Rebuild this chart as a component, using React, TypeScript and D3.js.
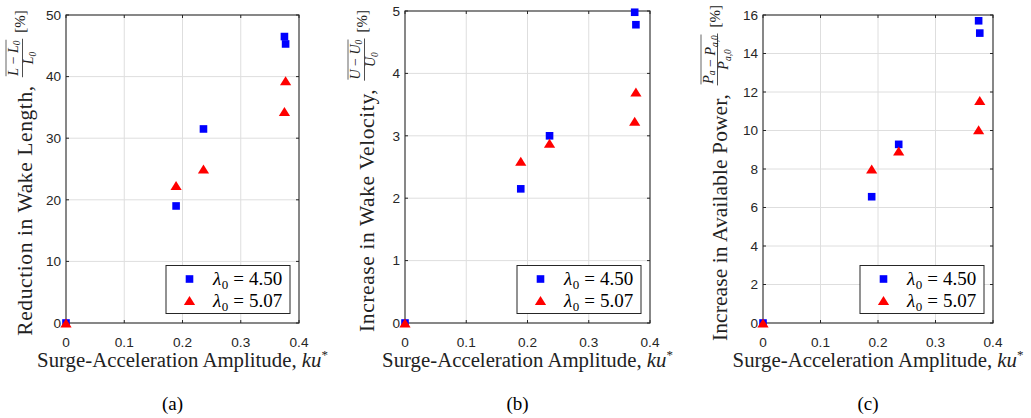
import React, { useEffect, useRef } from 'react';
import * as d3 from 'd3';

const W = 1031;
const H = 418;

// ---- data ----
const ampSquare = [0, 0.189, 0.236, 0.375, 0.377];
const ampTriangle = [0, 0.189, 0.236, 0.377, 0.375];
const lengthSquare = [0, 19.0, 31.5, 46.5, 45.3];
const lengthTriangle = [0, 22.3, 25.0, 39.3, 34.3];
const velocitySquare = [0, 2.15, 3.0, 4.98, 4.78];
const velocityTriangle = [0, 2.59, 2.88, 3.7, 3.23];
const powerSquare = [0, 6.56, 9.28, 15.7, 15.06];
const powerTriangle = [0, 8.0, 8.93, 11.55, 10.03];
const xTicks = [0, 0.1, 0.2, 0.3, 0.4];
const lengthTicks = [0, 10, 20, 30, 40, 50];
const velocityTicks = [0, 1, 2, 3, 4, 5];
const powerTicks = [0, 2, 4, 6, 8, 10, 12, 14, 16];
const legendValues = ['4.50', '5.07'];
const captions = ['(a)', '(b)', '(c)'];
const mainLabels = ['Reduction in Wake Length,', 'Increase in Wake Velocity,', 'Increase in Available Power,'];
const varSymbols = ['L', 'U', 'P'];
const varSubs = ['0', '0', 'a,0'];

const SERIF = '"Liberation Serif", "Times New Roman", serif';
const SANS = '"Liberation Sans", Arial, sans-serif';
const AX = '#262626';
const GRID = '#dedede';

type Panel = {
  left: number; right: number; top: number; bottom: number; labelX: number;
  yTicks: number[]; sq: number[]; tri: number[]; idx: number;
};

const panels: Panel[] = [
  { left: 66, right: 299, top: 15, bottom: 323, labelX: 32, yTicks: lengthTicks, sq: lengthSquare, tri: lengthTriangle, idx: 0 },
  { left: 405, right: 650, top: 11, bottom: 323, labelX: 374, yTicks: velocityTicks, sq: velocitySquare, tri: velocityTriangle, idx: 1 },
  { left: 763, right: 993, top: 15, bottom: 323, labelX: 727, yTicks: powerTicks, sq: powerSquare, tri: powerTriangle, idx: 2 },
];

const triPath = 'M0,-4.6L5.6,4.4L-5.6,4.4Z';

export default function App() {
  const ref = useRef<SVGSVGElement | null>(null);

  useEffect(() => {
    const svg = d3.select(ref.current);
    svg.selectAll('*').remove();

    panels.forEach((p) => {
      const x = d3.scaleLinear().domain([0, 0.4]).range([p.left, p.right]);
      const yMax = p.yTicks[p.yTicks.length - 1];
      const y = d3.scaleLinear().domain([0, yMax]).range([p.bottom, p.top]);
      const g = svg.append('g');

      // grid
      g.selectAll('line.gx').data(xTicks.slice(1, -1)).enter().append('line')
        .attr('x1', (d) => x(d)).attr('x2', (d) => x(d)).attr('y1', p.top).attr('y2', p.bottom)
        .attr('stroke', GRID).attr('stroke-width', 1);
      g.selectAll('line.gy').data(p.yTicks.slice(1, -1)).enter().append('line')
        .attr('y1', (d) => y(d)).attr('y2', (d) => y(d)).attr('x1', p.left).attr('x2', p.right)
        .attr('stroke', GRID).attr('stroke-width', 1);

      // ticks (inside, all sides)
      const tl = 3;
      xTicks.forEach((t) => {
        g.append('line').attr('x1', x(t)).attr('x2', x(t)).attr('y1', p.bottom).attr('y2', p.bottom - tl).attr('stroke', AX);
        g.append('line').attr('x1', x(t)).attr('x2', x(t)).attr('y1', p.top).attr('y2', p.top + tl).attr('stroke', AX);
      });
      p.yTicks.forEach((t) => {
        g.append('line').attr('y1', y(t)).attr('y2', y(t)).attr('x1', p.left).attr('x2', p.left + tl).attr('stroke', AX);
        g.append('line').attr('y1', y(t)).attr('y2', y(t)).attr('x1', p.right).attr('x2', p.right - tl).attr('stroke', AX);
      });

      // box
      g.append('rect').attr('x', p.left).attr('y', p.top).attr('width', p.right - p.left).attr('height', p.bottom - p.top)
        .attr('fill', 'none').attr('stroke', AX).attr('stroke-width', 1.1);

      // tick labels
      g.selectAll('text.xt').data(xTicks).enter().append('text')
        .attr('x', (d) => x(d)).attr('y', 346.5).attr('text-anchor', 'middle')
        .attr('font-family', SANS).attr('font-size', 13.6).attr('fill', AX)
        .text((d) => d3.format('')(d));
      g.selectAll('text.yt').data(p.yTicks).enter().append('text')
        .attr('x', p.left - 5).attr('y', (d) => y(d)).attr('dy', '0.36em').attr('text-anchor', 'end')
        .attr('font-family', SANS).attr('font-size', 13.6).attr('fill', AX)
        .text((d) => String(d));

      // data
      g.selectAll('rect.sq').data(p.sq).enter().append('rect')
        .attr('x', (d, i) => x(ampSquare[i]) - 3.8).attr('y', (d) => y(d) - 3.8)
        .attr('width', 7.6).attr('height', 7.6).attr('fill', '#0000ff');
      g.selectAll('path.tri').data(p.tri).enter().append('path')
        .attr('d', triPath)
        .attr('transform', (d, i) => `translate(${x(ampTriangle[i])},${y(d)})`)
        .attr('fill', '#ff0000');

      // legend
      const lw = 124, lh = 48;
      const lx = p.right - 9 - lw, ly = p.bottom - 9.5 - lh;
      g.append('rect').attr('x', lx).attr('y', ly).attr('width', lw).attr('height', lh)
        .attr('fill', '#fff').attr('stroke', AX).attr('stroke-width', 1);
      const rows = [ly + 13.5, ly + 35];
      g.append('rect').attr('x', lx + 23.5 - 3.8).attr('y', rows[0] - 3.8).attr('width', 7.6).attr('height', 7.6).attr('fill', '#0000ff');
      g.append('path').attr('d', triPath).attr('transform', `translate(${lx + 23.5},${rows[1]})`).attr('fill', '#ff0000');
      legendValues.forEach((v, i) => {
        const t = g.append('text').attr('x', lx + 47).attr('y', rows[i] + 6)
          .attr('font-family', SERIF).attr('font-size', 19).attr('fill', '#000');
        t.append('tspan').attr('font-style', 'italic').text('λ');
        t.append('tspan').attr('font-size', 13).attr('dy', 4).attr('dx', 0.5).text('0');
        t.append('tspan').attr('dy', -4).attr('dx', 5).text('=');
        t.append('tspan').attr('dx', 5).text(v);
      });

      // x label
      const cx = (p.left + p.right) / 2;
      const xl = g.append('text').attr('x', cx).attr('y', 367).attr('text-anchor', 'middle')
        .attr('font-family', SERIF).attr('font-size', 20.8).attr('fill', '#222');
      xl.append('tspan').text('Surge-Acceleration Amplitude, ');
      xl.append('tspan').attr('font-style', 'italic').text('ku');
      xl.append('tspan').attr('font-size', 13).attr('dy', -8).text('*');

      // caption
      g.append('text').attr('x', cx - 10).attr('y', 410).attr('text-anchor', 'middle')
        .attr('font-family', SERIF).attr('font-size', 19).attr('fill', '#000').text(captions[p.idx]);

      // y label (rotated, with fraction)
      const cy = (p.top + p.bottom) / 2 + 4;
      const yl = g.append('g').attr('transform', `translate(${p.labelX},${cy}) rotate(-90)`);
      const main = yl.append('text').attr('x', 0).attr('y', 0)
        .attr('font-family', SERIF).attr('font-size', 21.5).attr('letter-spacing', 0.6)
        .attr('fill', '#222').text(mainLabels[p.idx]);
      const sym = varSymbols[p.idx];
      const sub = varSubs[p.idx];
      const FS = 14;
      const addVar = (t: any, withSubscript: boolean, subText: string) => {
        t.append('tspan').attr('font-style', 'italic').text(sym);
        if (withSubscript) {
          t.append('tspan').attr('font-size', 9.5).attr('font-style', 'italic').attr('dy', 2.5).text(subText);
          t.append('tspan').attr('dy', -2.5).text('');
        }
      };
      const num = yl.append('text').attr('y', -14.5).attr('text-anchor', 'middle')
        .attr('font-family', SERIF).attr('font-size', FS).attr('fill', '#222');
      if (p.idx === 2) addVar(num, true, 'a'); else addVar(num, false, '');
      num.append('tspan').text(' − ');
      addVar(num, true, sub);
      const den = yl.append('text').attr('y', 1).attr('text-anchor', 'middle')
        .attr('font-family', SERIF).attr('font-size', FS).attr('fill', '#222');
      addVar(den, true, sub);
      const pct = yl.append('text').attr('y', -7.5).attr('font-family', SERIF).attr('font-size', 15)
        .attr('fill', '#222').text('[%]');

      let w1 = (main.node() as SVGTextElement).getComputedTextLength();
      const wn = (num.node() as SVGTextElement).getBBox().width;
      const wd = (den.node() as SVGTextElement).getBBox().width;
      const wf = Math.max(wn, wd) + 2;
      const wp = (pct.node() as SVGTextElement).getComputedTextLength();
      const g1 = 8, g2 = 6;
      let total = w1 + g1 + wf + g2 + wp;
      const maxTotal = 2 * (cy - 5);
      if (total > maxTotal) {
        const nw = w1 - (total - maxTotal);
        main.attr('textLength', nw).attr('lengthAdjust', 'spacing');
        w1 = nw;
        total = maxTotal;
      }
      const x0 = -total / 2;
      main.attr('x', x0);
      const fc = x0 + w1 + g1 + wf / 2;
      num.attr('x', fc);
      den.attr('x', fc);
      yl.append('line').attr('x1', fc - wf / 2).attr('x2', fc + wf / 2).attr('y1', -9.5).attr('y2', -9.5)
        .attr('stroke', '#222').attr('stroke-width', 0.8);
      yl.append('line').attr('x1', fc - wn / 2).attr('x2', fc + wn / 2).attr('y1', -26).attr('y2', -26)
        .attr('stroke', '#222').attr('stroke-width', 0.7);
      pct.attr('x', x0 + w1 + g1 + wf + g2);
    });
  }, []);

  return (
    <svg ref={ref} width={W} height={H} style={{ position: 'absolute', left: 0, top: 0, background: '#fff' }} />
  );
}
